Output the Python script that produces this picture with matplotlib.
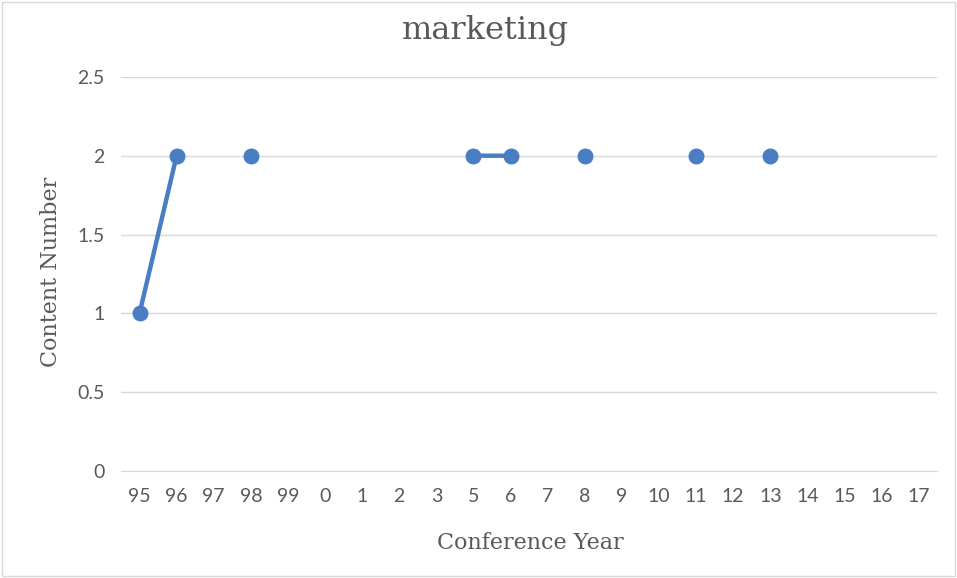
import matplotlib.pyplot as plt
import numpy as np

years = ["95", "96", "97", "98", "99", "0", "1", "2", "3", "5", "6", "7",
         "8", "9", "10", "11", "12", "13", "14", "15", "16", "17"]
nan = np.nan
counts = [1, 2, nan, 2, nan, nan, nan, nan, nan, 2, 2, nan,
          2, nan, nan, 2, nan, 2, nan, nan, nan, nan]

serif = ['DejaVu Serif']
plt.rcParams['font.family'] = ['Lato', 'DejaVu Sans']

fig = plt.figure(figsize=(9.57, 5.78), dpi=100)
ax = fig.add_axes([0.1264, 0.185, 0.853, 0.682])

x = np.arange(len(years))
ax.plot(x, counts, color="#4A7EC2", linewidth=3.2, marker="o", markersize=10.5,
        solid_capstyle="round")

ax.set_xlim(-0.5, len(years) - 0.5)
ax.set_ylim(0, 2.5)
ax.set_yticks([0, 0.5, 1, 1.5, 2, 2.5])
ax.set_yticklabels(["0", "0.5", "1", "1.5", "2", "2.5"])
ax.set_xticks(x)
ax.set_xticklabels(years)

ax.grid(axis="y", color="#D9D9D9", linewidth=1)
ax.set_axisbelow(True)
for s in ["top", "right", "left"]:
    ax.spines[s].set_visible(False)
ax.spines["bottom"].set_color("#D9D9D9")
ax.tick_params(length=0, labelsize=14, colors="#595959", pad=12)

fig.text(0.507, 1 - 30 / 578, "marketing", fontsize=23, color="#595959",
         family=serif, ha="center", va="center")
fig.text(530 / 957, 1 - 543 / 578, "Conference Year", fontsize=16, color="#595959",
         family=serif, ha="center", va="center")
fig.text(51 / 957, 1 - 272 / 578, "Content Number", fontsize=16, color="#595959",
         family=serif, ha="center", va="center", rotation=90)

fig.patches.append(plt.Rectangle((0.002, 0.004), 0.996, 0.992, transform=fig.transFigure,
                                 fill=False, edgecolor="#D9D9D9", linewidth=1))

fig.savefig("out.png", dpi=100)
